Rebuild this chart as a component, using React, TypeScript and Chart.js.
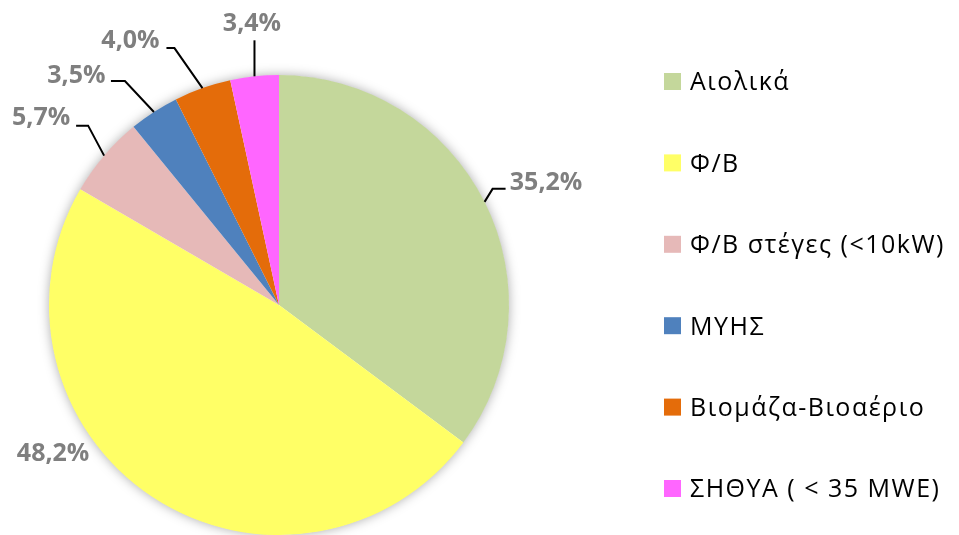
import React, { useEffect, useRef } from "react";
import { Chart, registerables } from "chart.js";

Chart.register(...registerables);

const categories = [
  "Αιολικά",
  "Φ/Β",
  "Φ/Β στέγες (<10kW)",
  "ΜΥΗΣ",
  "Βιομάζα-Βιοαέριο",
  "ΣΗΘΥΑ ( < 35 MWE)",
];
const shares = [35.2, 48.2, 5.7, 3.5, 4.0, 3.4];
const valueLabels = ["35,2%", "48,2%", "5,7%", "3,5%", "4,0%", "3,4%"];
const colors = ["#C4D79B", "#FFFF66", "#E6B9B8", "#4F81BD", "#E46C0A", "#FF66FF"];

// label layout relative to the slice's outer mid point (style only)
const labelLayout = [
  { line: [[8, -13], [21, -13]], text: [61.5, -21] },
  { line: [], text: [-99, -45] },
  { line: [[-16, -30], [-28, -30]], text: [-63, -40] },
  { line: [[-29, -31], [-43, -31]], text: [-77.5, -38] },
  { line: [[-28, -40], [-36, -40]], text: [-72, -49] },
  { line: [[0, -36]], text: [-2.5, -54] },
];

const FONT = "'Open Sans', 'Noto Sans', sans-serif";

const pieExtras = {
  id: "pieExtras",
  beforeDatasetsDraw(chart: any) {
    const meta = chart.getDatasetMeta(0);
    const arc = meta.data[0];
    if (!arc) return;
    const { x, y, outerRadius } = arc.getProps(["x", "y", "outerRadius"], true);
    const ctx = chart.ctx;
    ctx.save();
    ctx.shadowColor = "rgba(0,0,0,0.35)";
    ctx.shadowBlur = 12;
    ctx.shadowOffsetX = 0;
    ctx.shadowOffsetY = 0;
    ctx.fillStyle = "#ffffff";
    ctx.beginPath();
    ctx.arc(x, y, outerRadius - 0.5, 0, Math.PI * 2);
    ctx.fill();
    ctx.restore();
  },
  afterDatasetsDraw(chart: any) {
    const ctx = chart.ctx;
    const meta = chart.getDatasetMeta(0);
    const labelSize = 25;
    ctx.save();
    meta.data.forEach((el: any, i: number) => {
      const { x, y, outerRadius, startAngle, endAngle } = el.getProps(
        ["x", "y", "outerRadius", "startAngle", "endAngle"],
        true
      );
      const mid = (startAngle + endAngle) / 2;
      const px = x + Math.cos(mid) * outerRadius;
      const py = y + Math.sin(mid) * outerRadius;
      const lay = labelLayout[i];
      if (lay.line.length) {
        ctx.strokeStyle = "#000000";
        ctx.lineWidth = 2;
        ctx.lineJoin = "miter";
        ctx.beginPath();
        ctx.moveTo(px, py);
        lay.line.forEach((p) => ctx.lineTo(px + p[0], py + p[1]));
        ctx.stroke();
      }
      ctx.fillStyle = "#7F7F7F";
      ctx.font = `bold ${labelSize}px ${FONT}`;
      ctx.textAlign = "center";
      ctx.textBaseline = "alphabetic";
      ctx.fillText(valueLabels[i], px + lay.text[0], py + lay.text[1] + labelSize * 0.357);
    });

    // legend
    const legendSize = 25;
    const boxX = 664;
    const firstRow = 81.5;
    const rowStep = 81.4;
    ctx.font = `${legendSize}px ${FONT}`;
    ctx.textAlign = "left";
    (ctx as any).letterSpacing = "1.5px";
    chart.data.labels.forEach((lab: string, i: number) => {
      const cy = firstRow + rowStep * i;
      ctx.fillStyle = chart.data.datasets[0].backgroundColor[i];
      ctx.fillRect(boxX, cy - 8.5, 17, 17);
      ctx.fillStyle = "#000000";
      ctx.fillText(lab, 690, cy + legendSize * 0.357);
    });
    (ctx as any).letterSpacing = "0px";
    ctx.restore();
  },
};

export default function App() {
  const ref = useRef<HTMLCanvasElement | null>(null);
  useEffect(() => {
    document.body.style.margin = "0";
    const canvas = ref.current!;
    const chart = new Chart(canvas, {
      type: "pie",
      data: {
        labels: categories,
        datasets: [
          {
            data: shares,
            backgroundColor: colors,
            borderWidth: 0,
          },
        ],
      },
      options: {
        responsive: false,
        animation: false,
        devicePixelRatio: 1,
        layout: { padding: { left: 49, top: 75, right: 450, bottom: 0 } },
        plugins: {
          legend: { display: false },
          tooltip: { enabled: false },
        },
      },
      plugins: [pieExtras],
    });
    return () => chart.destroy();
  }, []);
  return (
    <div style={{ width: 959, height: 535, background: "#fff" }}>
      <canvas ref={ref} width={959} height={535} />
    </div>
  );
}
